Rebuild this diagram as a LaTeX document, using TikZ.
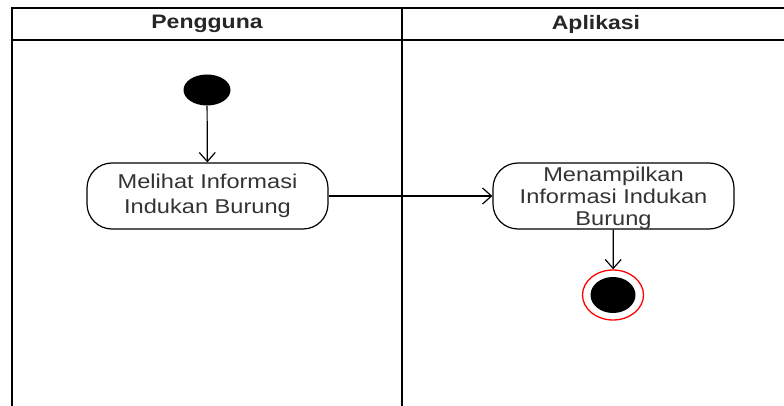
\documentclass[tikz,border=0pt]{standalone}
\usepackage{fontspec}
\setmainfont{Liberation Sans}[FakeStretch=1.18]
\usetikzlibrary{arrows.meta,shapes.geometric}
\begin{document}
\begin{tikzpicture}[x=1pt,y=-1pt,
  lane/.style={line width=1.5pt,draw=black},
  action/.style={draw=black,line width=1.2pt,rounded corners=25pt,
    minimum width=241pt,minimum height=66pt,inner sep=0pt,
    text=black!80,align=center},
  flow/.style={line width=1.2pt,draw=black,
    -{Straight Barb[length=9pt,width=16pt,line width=1.2pt]}},
  lanetitle/.style={font=\fontsize{19.5}{21}\selectfont\bfseries,text=black!85}]
  \useasboundingbox (0,0) rectangle (784,406);
  % swimlane frame
  \begin{scope}
    \clip (0,0) rectangle (784,406);
    \draw[lane] (12,420) -- (12,8) -- (800,8);
    \draw[lane] (12,40) -- (800,40);
    \draw[lane] (402,8) -- (402,420);
  \end{scope}
  \node[lanetitle] (lane1) at (207,24) {Pengguna};
  \node[lanetitle] (lane2) at (596,24) {Aplikasi};
  % start
  \node[ellipse,fill=black,minimum width=47pt,minimum height=31pt,inner sep=0pt] (start) at (207,90) {};
  % activities
  \node[action,font=\fontsize{20}{25}\selectfont] (a1) at (207.5,196)
    {Melihat Informasi\\Indukan Burung};
  \node[action] (a2) at (613.5,196) {};
  \node[text=black!80,align=center,font=\fontsize{20}{22}\selectfont,inner sep=0pt]
    (a2text) at (613.5,198) {Menampilkan\\Informasi Indukan\\Burung};
  % end
  \node[ellipse,draw=red,line width=1.3pt,fill=white,minimum width=61pt,minimum height=50pt,inner sep=0pt] (end) at (613,295) {};
  \node[ellipse,fill=black,minimum width=45pt,minimum height=36pt,inner sep=0pt] (endin) at (end.center) {};
  % flows
  \draw[flow] (start) -- (a1);
  \draw[flow] (a1) -- (a2);
  \draw[flow] (a2) -- (end);
\end{tikzpicture}
\end{document}
